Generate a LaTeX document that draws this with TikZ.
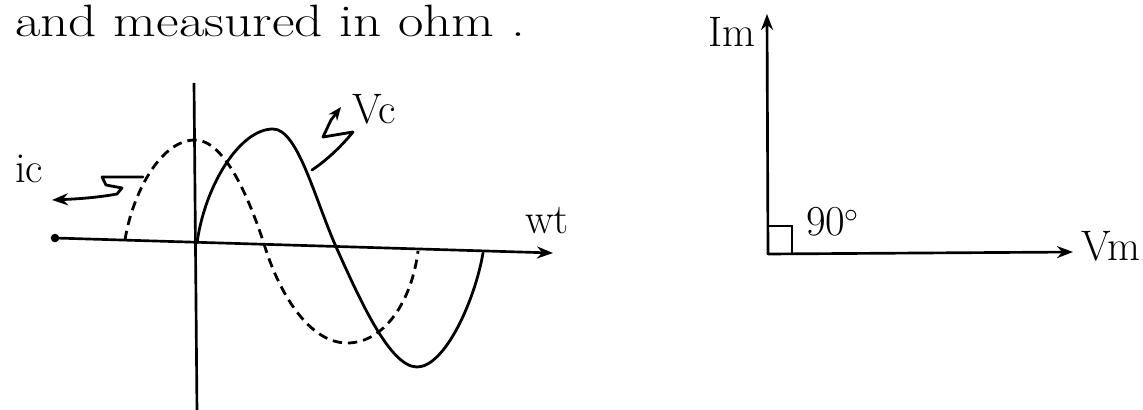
\documentclass[tikz,border=0pt]{standalone}
\usetikzlibrary{arrows.meta}
\begin{document}
\begin{tikzpicture}[x=0.75pt,y=-0.75pt,
  curve/.style={line width=2.1pt, line cap=round, line join=round},
  dashcurve/.style={line width=2.1pt, dash pattern=on 7pt off 4.5pt},
  axisline/.style={line width=2pt},
  arr/.style={-{Stealth[length=12pt,width=9pt]}},
  lbl/.style={font=\fontsize{32}{36}\selectfont, inner sep=0pt},
  head/.style={font=\fontsize{34}{40}\selectfont, inner sep=0pt}]
\useasboundingbox (0,0) rectangle (1143,410);
% heading text
\node[head, anchor=base west] (txt) at (15,37) {\scalebox{1.22}[1]{and measured in ohm .}};
% left plot axes
\coordinate (axL) at (55,238);
\coordinate (axR) at (553,253);
\coordinate (vT) at (194,83);
\coordinate (vB) at (197,412);
\coordinate (O) at (197,243);
\fill (axL) circle (3.2pt);
\draw[axisline, arr] (axL) -- (axR);
\draw[axisline] (vT) -- (vB);
% solid curve Vc
\draw[curve] (O) .. controls (205,185) and (240,129) .. (273,129)
  .. controls (298,129) and (315,200) .. (337,249)
  .. controls (360,300) and (390,367) .. (417,367)
  .. controls (445,367) and (475,300) .. (483,253);
% dashed curve ic
\draw[dashcurve] (125,240) .. controls (132,195) and (160,140) .. (195,140)
  .. controls (225,140) and (250,200) .. (265,247)
  .. controls (280,295) and (310,343) .. (347,343)
  .. controls (385,343) and (412,300) .. (418,251);
% label pointers
\coordinate (icS) at (143,177);
\draw[curve, arr] (icS) -- (102,177) -- (106,185) -- (122,188) -- (117,194)
  .. controls (95,198) and (75,199) .. (52,200);
\coordinate (vcS) at (312,170);
\draw[curve, -{Stealth[length=10pt,width=8pt]}] (vcS) .. controls (330,158) and (345,142) .. (353,132)
  -- (323,137) -- (331,120) -- (341,107);
% labels left
\node[lbl, anchor=base] (ic) at (29,182) {ic};
\node[lbl, anchor=base] (vc) at (374,123) {Vc};
\node[lbl, anchor=base] (wt) at (547,233) {wt};
% phasor diagram
\coordinate (O2) at (768,254);
\coordinate (ImT) at (767,14);
\coordinate (VmR) at (1073,252);
\draw[axisline, arr] (O2) -- (ImT);
\draw[axisline, arr] (O2) -- (VmR);
\draw[axisline] (O2) rectangle (792,226);
\node[lbl, anchor=base] (im) at (732,47) {Im};
\node[lbl, anchor=base west] (ninety) at (806,235) {90\kern-1pt$^{\circ}$};
\node[lbl, anchor=base west] (vm) at (1081,260) {Vm};
\end{tikzpicture}
\end{document}
